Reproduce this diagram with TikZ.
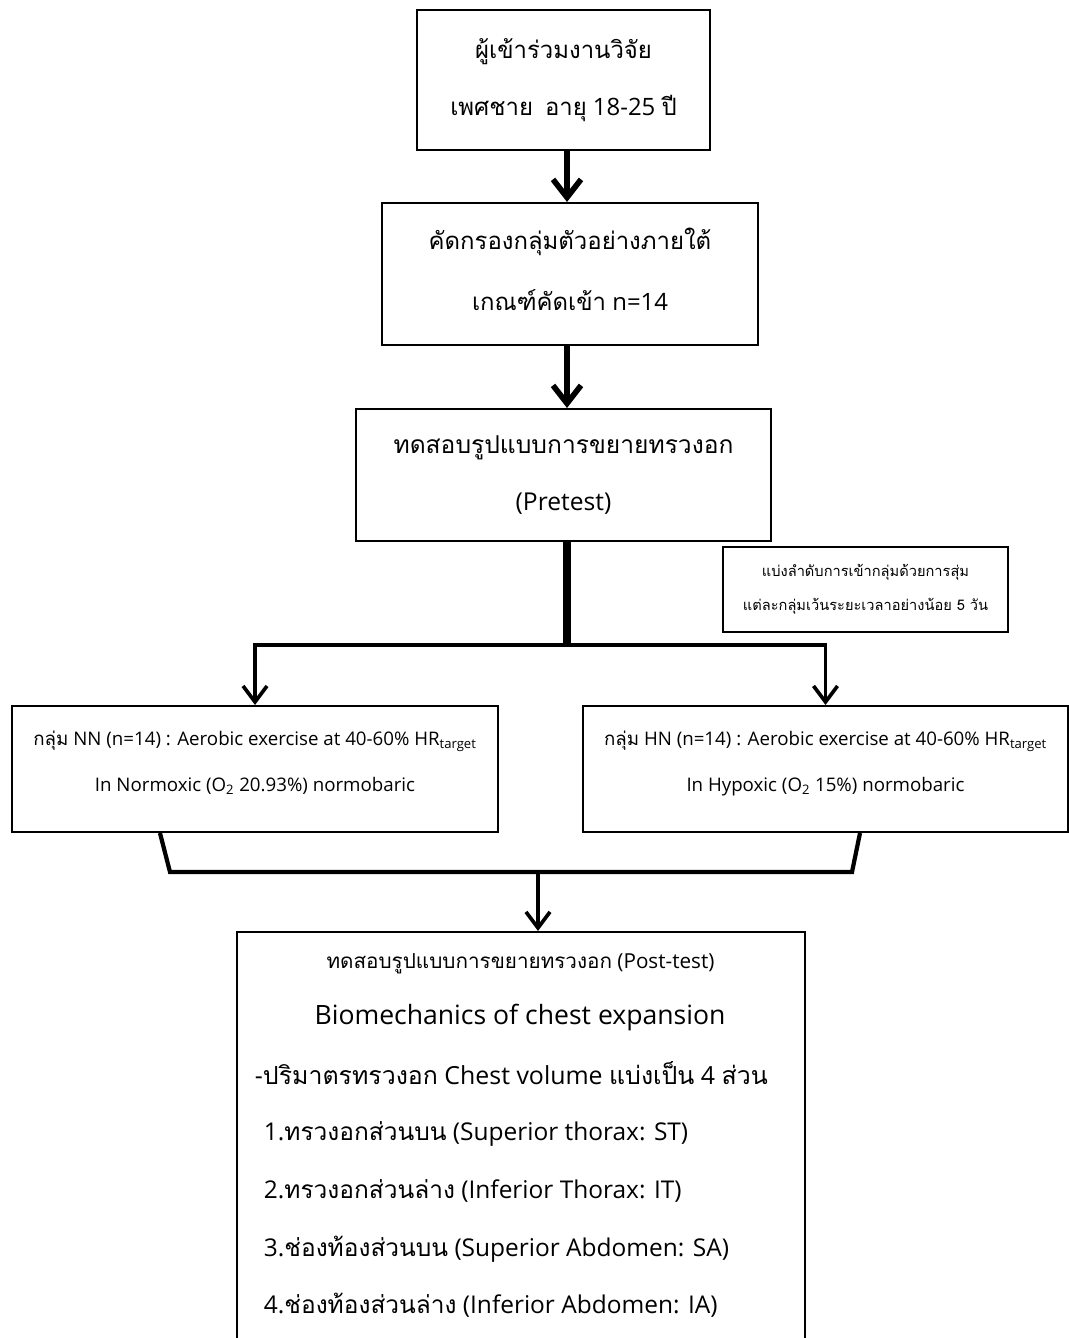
\documentclass[tikz,border=0pt]{standalone}
\usepackage{fontspec}
\setmainfont{Open Sans}
\newfontfamily\thaifont[Script=Thai]{Loma}
\newcommand{\thai}[1]{{\thaifont #1}}
\usetikzlibrary{arrows.meta}

\begin{document}
\begin{tikzpicture}[x=0.025cm,y=-0.025cm,
  kotak/.style={draw,line width=1.4pt,inner sep=0pt,align=center},
  panah/.style={line width=4pt,-{Straight Barb[length=4.5mm,width=7mm]}},
  panahkecil/.style={line width=2.6pt,-{Straight Barb[length=4mm,width=6mm]}},
  garis/.style={line width=3pt}]
			\useasboundingbox (0,0) rectangle (1069,1338);
			\coordinate (cabang) at (567,645);
			\coordinate (gabung) at (538,872);
			% kotak atas
			\node[kotak,minimum width=7.325cm,minimum height=3.5cm,font=\fontsize{17}{41}\selectfont] (peserta) at (563.5,80)
			  {\thai{ผู้เข้าร่วมงานวิจัย}\\ \thai{เพศชาย\enspace อายุ} 18-25 \thai{ปี}\\[-37pt]};
			\node[kotak,minimum width=9.4cm,minimum height=3.55cm,font=\fontsize{17}{43}\selectfont] (kriteria) at (570,274)
			  {\thai{คัดกรองกลุ่มตัวอย่างภายใต้}\\ \thai{เกณฑ์คัดเข้า} n=14\\[-36pt]};
			\node[kotak,minimum width=10.375cm,minimum height=3.3cm,font=\fontsize{17.5}{41}\selectfont] (pretest) at (563.5,475)
			  {\thai{ทดสอบรูปแบบการขยายทรวงอก}\\ (Pretest)};
			\node[kotak,minimum width=7.125cm,minimum height=2.125cm,font=\fontsize{10.4}{24}\selectfont] (acak) at (865.5,589.5)
			  {\thai{แบ่งลำดับการเข้ากลุ่มด้วยการสุ่ม}\\ \thai{แต่ละกลุ่มเว้นระยะเวลาอย่างน้อย 5 วัน}};
			% dua kelompok
			\node[kotak,minimum width=12.15cm,minimum height=3.15cm,font=\fontsize{13.3}{33}\selectfont] (kiri) at (255,769)
			  {\thai{กลุ่ม} NN (n=14) : Aerobic exercise at 40-60\% HR\textsubscript{target}\\ In Normoxic (O\textsubscript{2} 20.93\%) normobaric\\[-22pt]};
			\node[kotak,minimum width=12.125cm,minimum height=3.15cm,font=\fontsize{13.3}{33}\selectfont] (kanan) at (825.5,769)
			  {\thai{กลุ่ม} HN (n=14) : Aerobic exercise at 40-60\% HR\textsubscript{target}\\ In Hypoxic (O\textsubscript{2} 15\%) normobaric\\[-22pt]};
			% kotak bawah
			\node[kotak,minimum width=14.2cm,minimum height=10.325cm] (posttest) at (521,1138.5) {};
			\node[font=\fontsize{14.7}{17}\selectfont] (judul) at (520.5,964) {\thai{ทดสอบรูปแบบการขยายทรวงอก} (Post-test)};
			\node[font=\fontsize{18.9}{22}\selectfont] (biomek) at (520,1018) {Biomechanics of chest expansion};
			\node[anchor=west,font=\fontsize{17.7}{22}\selectfont] (volume) at (250,1073) {-\thai{ปริมาตรทรวงอก} Chest volume \thai{แบ่งเป็น} 4 \thai{ส่วน}};
			\node[anchor=west,font=\fontsize{17.4}{22}\selectfont] (st) at (259,1134) {1.\thai{ทรวงอกส่วนบน} (Superior thorax: ST)};
			\node[anchor=west,font=\fontsize{17.4}{22}\selectfont] (it) at (259,1191) {2.\thai{ทรวงอกส่วนล่าง} (Inferior Thorax: IT)};
			\node[anchor=west,font=\fontsize{17.4}{22}\selectfont] (sa) at (259,1249) {3.\thai{ช่องท้องส่วนบน} (Superior Abdomen: SA)};
			\node[anchor=west,font=\fontsize{17.4}{22}\selectfont] (ia) at (259,1305) {4.\thai{ช่องท้องส่วนล่าง} (Inferior Abdomen: IA)};
			% panah
			\draw[panah] (peserta.south -| cabang) -- (kriteria.north -| cabang);
			\draw[panah] (kriteria.south -| cabang) -- (pretest.north -| cabang);
			\draw[line width=5pt] (pretest.south -| cabang) -- (cabang);
			\draw[panahkecil] (cabang) -| (kiri.north);
			\draw[panahkecil] (cabang) -| (kanan.north);
			\draw[garis] ([xshift=-2.375cm]kiri.south) -- (170,872) -- (852,872) -- ([xshift=0.8625cm]kanan.south);
			\draw[panahkecil] (gabung) -- (gabung |- posttest.north);
		\end{tikzpicture}
\end{document}
